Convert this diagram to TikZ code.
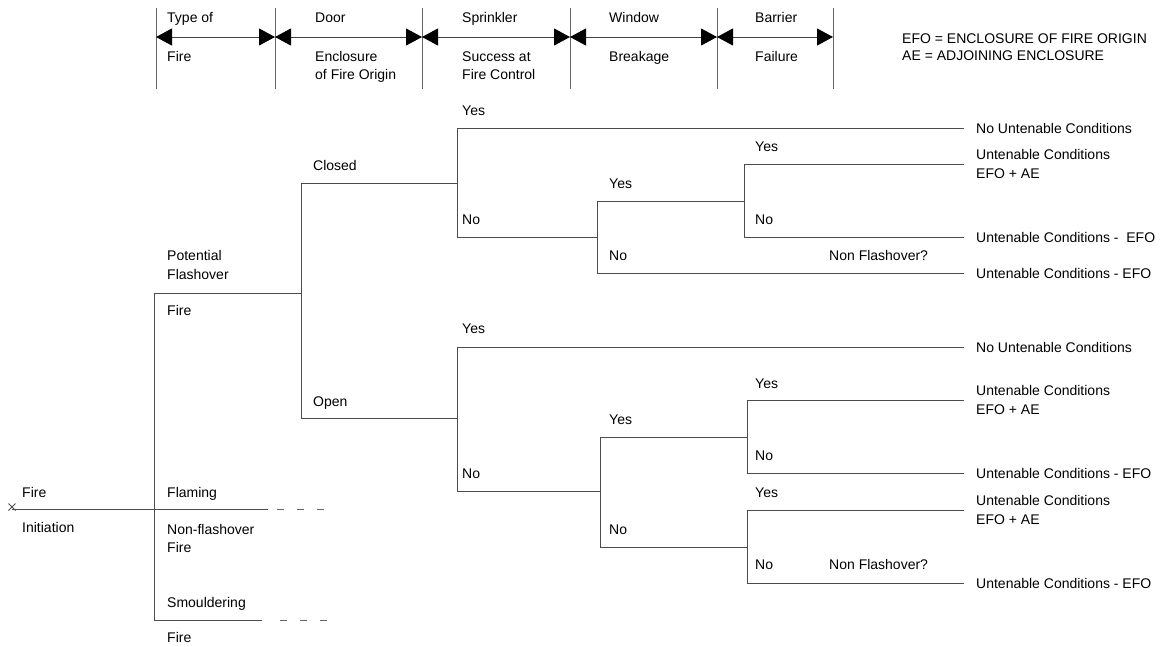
\documentclass[tikz,border=0pt]{standalone}
\usepackage{fontspec}
\setmainfont{Liberation Sans}
\usetikzlibrary{arrows.meta}
\begin{document}
\begin{tikzpicture}[x=1pt,y=-1pt,
  ln/.style={draw=black!70, line width=1pt},
  dsh/.style={draw=black!60, line width=1pt, dash pattern=on 7pt off 13pt},
  lbl/.style={anchor=base west, inner sep=0pt, font=\fontsize{14}{18}\selectfont},
  rlbl/.style={anchor=west, inner sep=0pt, align=left, font=\fontsize{14}{18.5}\selectfont},
  hdr/.style={draw=black!75, line width=1pt, {Triangle[length=16pt,width=17pt,color=black]}-{Triangle[length=16pt,width=17pt,color=black]}},
  vline/.style={draw=black!60, line width=1pt}
]
\useasboundingbox (0,0) rectangle (1169,646);

% ---------- header ----------
\foreach \n/\x in {h0/156,h1/275,h2/422,h3/570,h4/717,h5/833}{
  \coordinate (\n t) at (\x,8);
  \coordinate (\n b) at (\x,89);
  \coordinate (\n a) at (\x,37);
  \draw[vline] (\n t) -- (\n b);
}
\draw[hdr] (h0a) -- (h1a);
\draw[hdr] (h1a) -- (h2a);
\draw[hdr] (h2a) -- (h3a);
\draw[hdr] (h3a) -- (h4a);
\draw[hdr] (h4a) -- (h5a);

\node[lbl] (hT1) at (167,22) {Type of};
\node[lbl] (hT2) at (167,61) {Fire};
\node[lbl] (hD1) at (315,22) {Door};
\node[lbl] (hD2) at (315,61) {Enclosure};
\node[lbl] (hD3) at (315,79) {of Fire Origin};
\node[lbl] (hS1) at (462,22) {Sprinkler};
\node[lbl] (hS2) at (462,61) {Success at};
\node[lbl] (hS3) at (462,79) {Fire Control};
\node[lbl] (hW1) at (609,22) {Window};
\node[lbl] (hW2) at (609,61) {Breakage};
\node[lbl] (hB1) at (755,22) {Barrier};
\node[lbl] (hB2) at (755,61) {Failure};

\node[lbl] (leg1) at (902,43) {EFO = ENCLOSURE OF FIRE ORIGIN};
\node[lbl] (leg2) at (902,60) {AE = ADJOINING ENCLOSURE};

% ---------- coordinates ----------
\coordinate (init) at (12,509);
\coordinate (flamEnd) at (268,509);
\coordinate (flamD1) at (277,509);
\coordinate (flamD2) at (330,509);
\coordinate (ftT) at (154,293);
\coordinate (ftB) at (154,620);
\coordinate (potEnd) at (301,293);
\coordinate (smEnd) at (262,620);
\coordinate (smD1) at (280,620);
\coordinate (smD2) at (330,620);
\coordinate (doorT) at (301,183);
\coordinate (doorB) at (301,418);
% closed branch
\coordinate (s1) at (457,183);
\coordinate (s1T) at (457,128);
\coordinate (s1B) at (457,237);
\coordinate (e1) at (964,128);
\coordinate (w1) at (597,237);
\coordinate (w1T) at (597,201);
\coordinate (w1B) at (597,273);
\coordinate (e4) at (964,273);
\coordinate (b1) at (744,201);
\coordinate (b1T) at (744,164);
\coordinate (b1B) at (744,237);
\coordinate (e2) at (964,164);
\coordinate (e3) at (964,237);
% open branch
\coordinate (s2) at (457,418);
\coordinate (s2T) at (457,347);
\coordinate (s2B) at (457,491);
\coordinate (e5) at (964,347);
\coordinate (w2) at (600,491);
\coordinate (w2T) at (600,437);
\coordinate (w2B) at (600,547);
\coordinate (b2) at (747,437);
\coordinate (b2T) at (747,400);
\coordinate (b2B) at (747,473);
\coordinate (e6) at (964,400);
\coordinate (e7) at (964,473);
\coordinate (b3) at (747,547);
\coordinate (b3T) at (747,510);
\coordinate (b3B) at (747,583);
\coordinate (e8) at (964,510);
\coordinate (e9) at (964,583);

% ---------- tree lines ----------
\draw[ln] (init) -- (flamEnd);
\draw[dsh] (flamD1) -- (flamD2);
\draw[ln] (init) ++(-3.5,-5.5) -- ++(7,7);
\draw[ln] (init) ++(-3.5,1.5) -- ++(7,-7);
\draw[ln] (ftT) -- (ftB);
\draw[ln] (ftT) -- (potEnd);
\draw[ln] (ftB) -- (smEnd);
\draw[dsh] (smD1) -- (smD2);
\draw[ln] (doorT) -- (doorB);
\draw[ln] (doorT) -- (s1);
\draw[ln] (doorB) -- (s2);

\draw[ln] (s1T) -- (s1B);
\draw[ln] (s1T) -- (e1);
\draw[ln] (s1B) -- (w1);
\draw[ln] (w1T) -- (w1B);
\draw[ln] (w1T) -- (b1);
\draw[ln] (w1B) -- (e4);
\draw[ln] (b1T) -- (b1B);
\draw[ln] (b1T) -- (e2);
\draw[ln] (b1B) -- (e3);

\draw[ln] (s2T) -- (s2B);
\draw[ln] (s2T) -- (e5);
\draw[ln] (s2B) -- (w2);
\draw[ln] (w2T) -- (w2B);
\draw[ln] (w2T) -- (b2);
\draw[ln] (w2B) -- (b3);
\draw[ln] (b2T) -- (b2B);
\draw[ln] (b2T) -- (e6);
\draw[ln] (b2B) -- (e7);
\draw[ln] (b3T) -- (b3B);
\draw[ln] (b3T) -- (e8);
\draw[ln] (b3B) -- (e9);

% ---------- tree labels ----------
\node[lbl] (tFire) at (22,497) {Fire};
\node[lbl] (tInit) at (22,532) {Initiation};
\node[lbl] (tPot) at (167,260) {Potential};
\node[lbl] (tFla) at (167,279) {Flashover};
\node[lbl] (tPF) at (167,315) {Fire};
\node[lbl] (tFlam) at (167,497) {Flaming};
\node[lbl] (tNon) at (167,534) {Non-flashover};
\node[lbl] (tNF) at (167,552) {Fire};
\node[lbl] (tSm) at (167,607) {Smouldering};
\node[lbl] (tSF) at (167,642) {Fire};
\node[lbl] (tCl) at (313,170) {Closed};
\node[lbl] (tOp) at (313,406) {Open};

\node[lbl] (y1) at (462,115) {Yes};
\node[lbl] (n1) at (462,224) {No};
\node[lbl] (y2) at (609,188) {Yes};
\node[lbl] (n2) at (609,260) {No};
\node[lbl] (y3) at (755,151) {Yes};
\node[lbl] (n3) at (755,224) {No};
\node[lbl] (nf1) at (829,260) {Non Flashover?};

\node[lbl] (y4) at (462,333) {Yes};
\node[lbl] (n4) at (462,478) {No};
\node[lbl] (y5) at (609,424) {Yes};
\node[lbl] (n5) at (609,534) {No};
\node[lbl] (y6) at (755,388) {Yes};
\node[lbl] (n6) at (755,460) {No};
\node[lbl] (y7) at (755,497) {Yes};
\node[lbl] (n7) at (755,569) {No};
\node[lbl] (nf2) at (829,569) {Non Flashover?};

% ---------- outcomes ----------
\node[rlbl] (o1) at ([xshift=12pt]e1) {No Untenable Conditions};
\node[rlbl] (o2) at ([xshift=12pt]e2) {Untenable Conditions\\EFO + AE};
\node[rlbl] (o3) at ([xshift=12pt]e3) {Untenable Conditions -\ \ EFO};
\node[rlbl] (o4) at ([xshift=12pt]e4) {Untenable Conditions - EFO};
\node[rlbl] (o5) at ([xshift=12pt]e5) {No Untenable Conditions};
\node[rlbl] (o6) at ([xshift=12pt]e6) {Untenable Conditions\\EFO + AE};
\node[rlbl] (o7) at ([xshift=12pt]e7) {Untenable Conditions - EFO};
\node[rlbl] (o8) at ([xshift=12pt]e8) {Untenable Conditions\\EFO + AE};
\node[rlbl] (o9) at ([xshift=12pt]e9) {Untenable Conditions - EFO};
\end{tikzpicture}
\end{document}
